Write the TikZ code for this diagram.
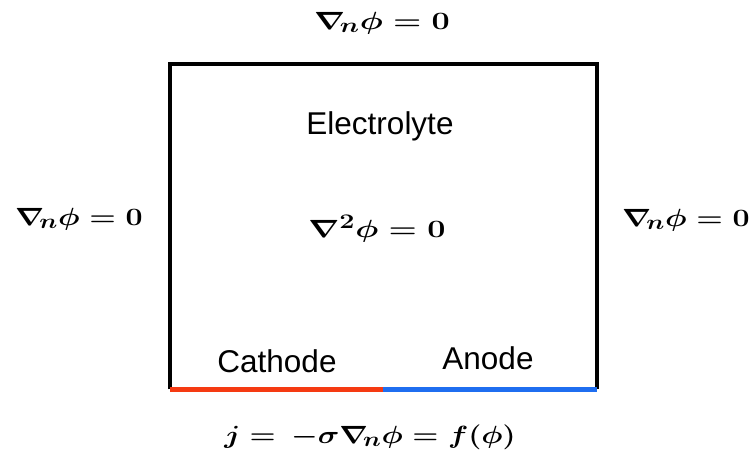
\documentclass[tikz,border=0pt]{standalone}
\usepackage{fontspec}
\usepackage{amsmath}
\setsansfont{Liberation Sans}
\definecolor{cathodered}{HTML}{F53A12}
\definecolor{anodeblue}{HTML}{1F6EF0}
\tikzset{
  sanslabel/.style={font=\sffamily\fontsize{31.5}{36}\selectfont, inner sep=0pt},
  mathlabel/.style={font=\boldmath\fontsize{31}{36}\selectfont, inner sep=0pt, xscale=1.3},
  sidemath/.style={mathlabel, xscale=1.22/1.3},
  widemath/.style={mathlabel, xscale=1.2/1.3},
  wall/.style={line width=3.5pt, black},
}
\begin{document}
\begin{tikzpicture}[x=1pt,y=-1pt]
\useasboundingbox (0,0) rectangle (753,454);
\coordinate (bl) at (170,389.5);
\coordinate (tl) at (170,64);
\coordinate (tr) at (597,64);
\coordinate (br) at (597,389.5);
\coordinate (mid) at (383,389.5);
\draw[wall, line join=miter] (bl) -- (tl) -- (tr) -- (br);
\draw[line width=5pt, cathodered] (bl) -- (mid);
\draw[line width=5pt, anodeblue] (mid) -- (br);
\node[sanslabel] (electrolyte) at (380,126) {Electrolyte};
\node[sanslabel] (cathode) at (277,361) {Cathode};
\node[sanslabel] (anode) at (488,358) {Anode};
\node[mathlabel] (top) at (382,23) {$\nabla_{\!n}\phi = 0$};
\node[sidemath] (left) at (79,219) {$\nabla_{\!n}\phi = 0$};
\node[sidemath] (right) at (686,220) {$\nabla_{\!n}\phi = 0$};
\node[mathlabel] (laplace) at (377,229) {$\nabla^2\phi = 0$};
\node[widemath] (bottom) at (370,437) {$j = \,-\sigma\nabla_{\!n}\phi = f(\phi)$};
\end{tikzpicture}
\end{document}
